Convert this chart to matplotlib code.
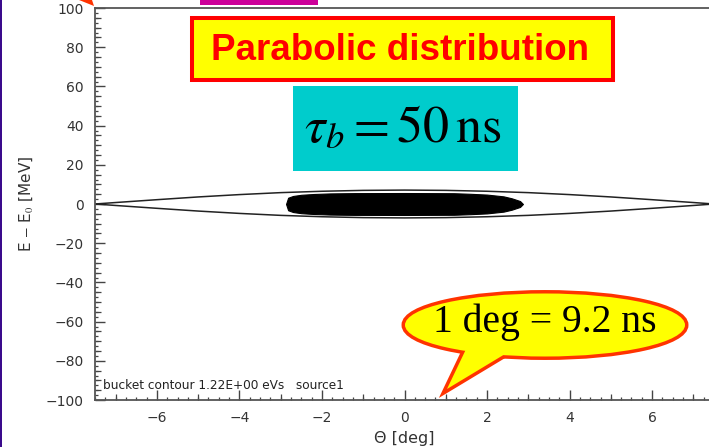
import numpy as np
import matplotlib.pyplot as plt
from matplotlib.patches import Rectangle, Ellipse, Polygon
from matplotlib.ticker import MultipleLocator

plt.rcParams['mathtext.fontset'] = 'stix'

# bucket contour (upper half, lower half is the mirror)
theta_sep = [-7.5, -7, -6, -5, -4, -3, -2, -1, 0, 1, 2, 3, 4, 5, 6, 7, 7.5]
e_sep = [0, 0.75, 2.2, 3.6, 4.8, 5.8, 6.5, 6.95, 7.1, 6.95, 6.5, 5.8, 4.8, 3.6, 2.2, 0.75, 0]

# outline of the particle cloud (half height)
bunch_theta = [-2.87, -2.82, -2.7, -2.5, -2.2, -1.8, -1.2, 0, 1.2, 1.6, 2.0, 2.4, 2.6, 2.8, 2.87]
bunch_e = [0, 3.2, 4.1, 4.7, 5.1, 5.4, 5.55, 5.6, 5.5, 5.2, 4.8, 3.9, 2.9, 1.5, 0]

x_ticks = [-6, -4, -2, 0, 2, 4, 6]
y_ticks = [-100, -80, -60, -40, -20, 0, 20, 40, 60, 80, 100]

W, H = 709, 447
fig = plt.figure(figsize=(W / 100, H / 100), dpi=100)

def fx(px):
    return px / W

def fy(py):
    return 1 - py / H

ax = fig.add_axes([fx(95), fy(400), 619 / W, 392 / H])
ax.set_xlim(-7.5, 7.5)
ax.set_ylim(-100, 100)

ax.plot(theta_sep, e_sep, color='#222222', lw=1.1)
ax.plot(theta_sep, -np.array(e_sep), color='#222222', lw=1.1)
ax.fill_between(bunch_theta, -np.array(bunch_e), bunch_e, facecolor='black', edgecolor='black', lw=0.8)

# axes frame and ticks
for s in ax.spines.values():
    s.set_color('#555555')
    s.set_linewidth(1.3)
ax.set_xticks(x_ticks)
ax.set_yticks(y_ticks)
ax.xaxis.set_minor_locator(MultipleLocator(0.25))
ax.yaxis.set_minor_locator(MultipleLocator(2.5))
ax.tick_params(which='major', direction='in', length=7, width=1, color='#444444',
               labelsize=10, labelcolor='#333333', pad=8, top=False, right=False)
ax.tick_params(which='minor', direction='in', length=2.4, width=0.9, color='#444444',
               top=False, right=False)

# medium ticks
secx = ax.secondary_xaxis('bottom')
secx.set_xticks([-7, -5, -3, -1, 1, 3, 5, 7])
secx.tick_params(direction='in', length=4, width=0.9, color='#444444', labelbottom=False)
secx.spines['bottom'].set_visible(False)
secy = ax.secondary_yaxis('left')
secy.set_yticks([-95, -85, -75, -65, -55, -45, -35, -25, -15, -5, 5, 15, 25, 35, 45, 55, 65, 75, 85, 95,
                 -90, -70, -50, -30, -10, 10, 30, 50, 70, 90])
secy.tick_params(direction='in', length=4, width=0.9, color='#444444', labelleft=False)
secy.spines['left'].set_visible(False)

ax.set_xlabel('Θ [deg]', fontsize=11.5, color='#333333', labelpad=4)
ax.set_ylabel('E $-$ E$_0$ [MeV]', fontsize=11, color='#333333', labelpad=8)
ax.text(0.013, 0.028, 'bucket contour 1.22E+00 eVs   source1', transform=ax.transAxes,
        fontsize=8.7, color='#222222', va='baseline', ha='left')

# slide decorations
fig.patches.append(Rectangle((0, 0), fx(2), 1, transform=fig.transFigure,
                             facecolor='#3a0a8c', edgecolor='none'))
fig.patches.append(Rectangle((fx(200), fy(5)), fx(118), 5 / H, transform=fig.transFigure,
                             facecolor='#cc0099', edgecolor='none'))
fig.patches.append(Polygon([(fx(79), fy(0)), (fx(92), fy(0)), (fx(94), fy(6))], closed=True,
                           transform=fig.transFigure, facecolor='#ff3300', edgecolor='none'))

# "Parabolic distribution" box
fig.patches.append(Rectangle((fx(192), fy(80)), fx(421), 62 / H, transform=fig.transFigure,
                             facecolor='#ffff00', edgecolor='#ff0000', lw=2.9))
fig.text(fx(400), fy(50), 'Parabolic distribution', fontsize=26.5, fontweight='bold',
         family='Liberation Sans', color='#ff0000', ha='center', va='center')

# tau_b box
fig.patches.append(Rectangle((fx(293), fy(171)), fx(225), 85 / H, transform=fig.transFigure,
                             facecolor='#00cccc', edgecolor='none'))
fig.text(fx(403), fy(128), r'$\tau_b = 50\,\mathrm{ns}$', fontsize=37.5, color='black',
         ha='center', va='center')

# speech bubble
bub_col = '#ff3300'
ell = dict(xy=(fx(545), fy(325)), width=fx(280), height=63 / H, transform=fig.transFigure)
tail = [(fx(468), fy(345)), (fx(447), fy(389)), (fx(520), fy(345))]
fig.patches.append(Ellipse(facecolor='none', edgecolor=bub_col, lw=5, **ell))
fig.patches.append(Polygon(tail, closed=True, transform=fig.transFigure, facecolor='none',
                           edgecolor=bub_col, lw=5, joinstyle='miter'))
fig.patches.append(Ellipse(facecolor='#ffff00', edgecolor='none', **ell))
fig.patches.append(Polygon(tail, closed=True, transform=fig.transFigure, facecolor='#ffff00',
                           edgecolor='none'))
fig.text(fx(545), fy(322), '1 deg = 9.2 ns', fontsize=28.5, family='Liberation Serif',
         color='black', ha='center', va='center')

fig.savefig('out.png', dpi=100)
